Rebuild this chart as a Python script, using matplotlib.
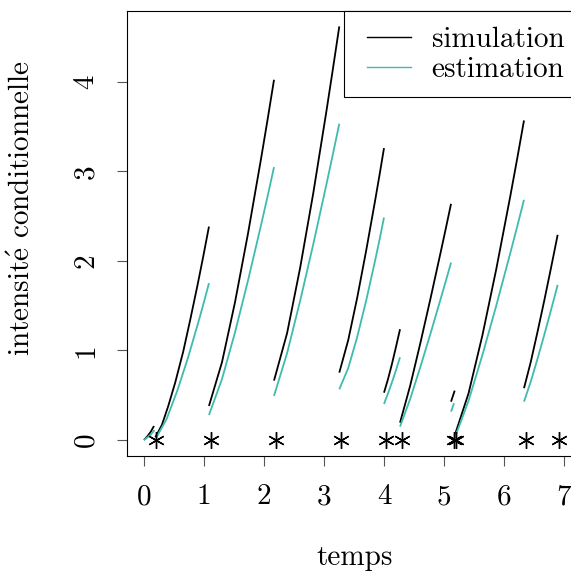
import matplotlib
matplotlib.use("Agg")
import matplotlib.pyplot as plt
from matplotlib.lines import Line2D
from matplotlib.patches import Rectangle

# ---- data ----
# simulated conditional intensity, one list per inter-event segment
sim_t = [
    [0.0, 0.056, 0.111, 0.167],
    [0.19, 0.3, 0.405, 0.52, 0.655, 0.77, 0.888, 0.985, 1.083],
    [1.083, 1.3, 1.517, 1.733, 1.95, 2.059, 2.167],
    [2.167, 2.385, 2.602, 2.82, 3.037, 3.146, 3.255],
    [3.255, 3.404, 3.553, 3.702, 3.851, 3.926, 4.0],
    [4.0, 4.067, 4.133, 4.2, 4.267],
    [4.267, 4.437, 4.607, 4.777, 4.947, 5.032, 5.117],
    [5.117, 5.178],
    [5.178, 5.409, 5.64, 5.871, 6.102, 6.218, 6.333],
    [6.333, 6.445, 6.557, 6.67, 6.782, 6.838, 6.894],
]
sim_v = [
    [0.0, 0.04, 0.09, 0.156],
    [0.03, 0.17, 0.38, 0.64, 0.99, 1.34, 1.715, 2.04, 2.383],
    [0.38, 0.868, 1.538, 2.303, 3.137, 3.574, 4.022],
    [0.663, 1.193, 1.921, 2.751, 3.657, 4.132, 4.618],
    [0.752, 1.116, 1.587, 2.111, 2.67, 2.961, 3.259],
    [0.528, 0.68, 0.85, 1.04, 1.237],
    [0.193, 0.608, 1.085, 1.586, 2.104, 2.368, 2.637],
    [0.428, 0.551],
    [0.05, 0.521, 1.169, 1.908, 2.713, 3.135, 3.568],
    [0.578, 0.869, 1.203, 1.554, 1.918, 2.103, 2.291],
]
# estimated conditional intensity
est_t = [
    [0.0, 0.06, 0.12, 0.175],
    [0.2, 0.377, 0.553, 0.73, 0.906, 0.995, 1.083],
    [1.083, 1.3, 1.517, 1.733, 1.95, 2.059, 2.167],
    [2.167, 2.385, 2.602, 2.82, 3.037, 3.146, 3.255],
    [3.255, 3.404, 3.553, 3.702, 3.851, 3.926, 4.0],
    [4.0, 4.067, 4.133, 4.2, 4.267],
    [4.267, 4.437, 4.607, 4.777, 4.947, 5.032, 5.117],
    [5.117, 5.167],
    [5.178, 5.409, 5.64, 5.871, 6.102, 6.218, 6.333],
    [6.333, 6.445, 6.557, 6.67, 6.782, 6.838, 6.894],
]
est_v = [
    [0.0, 0.03, 0.065, 0.11],
    [0.02, 0.234, 0.546, 0.911, 1.315, 1.529, 1.751],
    [0.279, 0.68, 1.201, 1.779, 2.397, 2.718, 3.047],
    [0.492, 0.969, 1.553, 2.182, 2.844, 3.185, 3.531],
    [0.566, 0.803, 1.149, 1.554, 2.001, 2.238, 2.484],
    [0.402, 0.52, 0.645, 0.78, 0.924],
    [0.149, 0.46, 0.818, 1.193, 1.582, 1.779, 1.981],
    [0.316, 0.41],
    [0.02, 0.438, 0.949, 1.5, 2.08, 2.379, 2.682],
    [0.428, 0.65, 0.904, 1.171, 1.448, 1.589, 1.732],
]
# event times (stars)
events = [0.195, 1.112, 2.195, 3.283, 4.033, 4.3, 5.167, 5.2, 6.362, 6.922]

xticks = [0, 1, 2, 3, 4, 5, 6, 7]
yticks = [0, 1, 2, 3, 4]
series_labels = ["simulation", "estimation"]
xlabel = "temps"
ylabel = r"intensit$\acute{\mathrm{e}}$ conditionnelle"   # "intensité conditionnelle"

# ---- style ----
FONT = ["cmr10", "DejaVu Serif"]
plt.rcParams["font.family"] = FONT
plt.rcParams["mathtext.fontset"] = "cm"
plt.rcParams["axes.formatter.use_mathtext"] = True
FS = 21
SIM_COLOR = "black"
EST_COLOR = "#3dbcad"
W, H = 571, 572

fig = plt.figure(figsize=(5.71, 5.72), dpi=100)
ax = fig.add_axes([127 / W, 1 - 456 / H, (572 - 127) / W, (456 - 11) / H])

for t, v in zip(sim_t, sim_v):
    ax.plot(t, v, color=SIM_COLOR, lw=1.3, solid_capstyle="butt")
for t, v in zip(est_t, est_v):
    ax.plot(t, v, color=EST_COLOR, lw=1.3, solid_capstyle="butt")

ax.plot(events, [0.0] * len(events), linestyle="none", marker=(6, 2, 0),
        markersize=12, markeredgewidth=1.0, color="black")

ax.set_xlim(-0.283, 7.133)
ax.set_ylim(-0.179, 4.79)

ax.set_xticks(xticks)
ax.set_xticklabels([str(x) for x in xticks], fontsize=FS)
ax.set_yticks(yticks)
ax.set_yticklabels([str(y) for y in yticks], fontsize=FS, rotation=90, va="center")
ax.tick_params(axis="both", direction="out", length=7, width=0.8, color="#555555")
ax.tick_params(axis="x", pad=13)
ax.tick_params(axis="y", pad=13)
for s in ax.spines.values():
    s.set_linewidth(0.8)

fig.text(355 / W, 1 - 558 / H, xlabel, fontsize=FS, ha="center", va="center")
fig.text(22 / W, 1 - 208 / H, ylabel, fontsize=FS, ha="center", va="center",
         rotation=90)

# legend: frame drawn separately (it runs past the right edge, as in the reference)
handles = [Line2D([0], [0], color=SIM_COLOR, lw=1.0),
           Line2D([0], [0], color=EST_COLOR, lw=1.0)]
leg = fig.legend(handles, series_labels, loc="upper left",
                 bbox_to_anchor=(367 / W, 1 - 27 / H),
                 bbox_transform=fig.transFigure,
                 frameon=False, fontsize=FS, borderpad=0.0, borderaxespad=0.0,
                 handlelength=1.5, handletextpad=0.72, labelspacing=0.12)
fig.add_artist(Rectangle((344 / W, 1 - 97 / H), (585 - 344) / W, 86 / H,
                         transform=fig.transFigure, fill=True, facecolor="white",
                         edgecolor="black", linewidth=0.8, zorder=2.5))
leg.set_zorder(3)

fig.savefig("out.png", dpi=100)
